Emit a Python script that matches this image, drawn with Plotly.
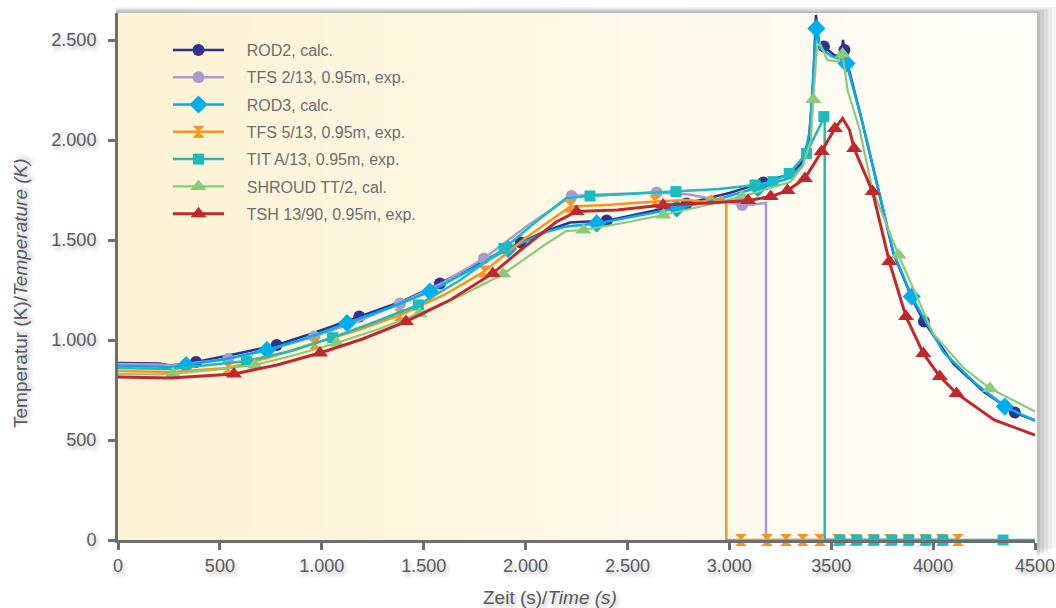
import plotly.graph_objects as go

# ---------------- data: time (s) and temperature (K) ----------------
rod2_t = [0, 200, 260, 383, 600, 779, 960, 1184, 1400, 1580, 1800, 1976, 2100, 2218, 2300, 2398,
          2600, 2790, 3000, 3167, 3300, 3350, 3390, 3410, 3425, 3440, 3464, 3520, 3550, 3558, 3565,
          3580, 3650, 3720, 3805, 3900, 3955, 4100, 4250, 4401, 4500]
rod2_T = [885, 883, 873, 890, 935, 975, 1035, 1117, 1195, 1283, 1400, 1487, 1545, 1587, 1590, 1597,
          1640, 1683, 1735, 1787, 1830, 1880, 2000, 2250, 2625, 2480, 2467, 2420, 2430, 2500, 2450,
          2380, 2100, 1800, 1433, 1200, 1092, 880, 740, 637, 598]
rod2_mt = [383, 779, 1184, 1580, 1976, 2398, 2790, 3167, 3464, 3565, 3955, 4401]
rod2_mT = [890, 975, 1117, 1283, 1487, 1597, 1683, 1787, 2467, 2450, 1092, 637]

tfs2_t = [0, 200, 260, 540, 750, 962, 1180, 1384, 1600, 1796, 2000, 2226, 2300, 2450, 2643, 2800,
          2950, 3063, 3120, 3180, 3180, 4130]
tfs2_T = [880, 878, 872, 905, 955, 1017, 1095, 1183, 1290, 1408, 1565, 1720, 1725, 1730, 1737, 1728,
          1700, 1675, 1678, 1685, 0, 0]
tfs2_mt = [540, 962, 1384, 1796, 2226, 2643, 3063]
tfs2_mT = [905, 1017, 1183, 1408, 1720, 1737, 1675]

rod3_t = [0, 200, 260, 334, 530, 731, 930, 1124, 1330, 1531, 1720, 1914, 2100, 2200, 2349, 2550,
          2742, 2950, 3140, 3300, 3360, 3395, 3410, 3427, 3445, 3500, 3560, 3575, 3650, 3720, 3805,
          3895, 4050, 4200, 4352, 4500]
rod3_T = [870, 868, 862, 875, 905, 950, 1010, 1085, 1160, 1242, 1345, 1455, 1540, 1568, 1583, 1620,
          1658, 1705, 1760, 1810, 1870, 2050, 2300, 2558, 2460, 2420, 2400, 2383, 2100, 1800, 1440,
          1217, 940, 790, 667, 597]
rod3_mt = [334, 731, 1124, 1531, 1914, 2349, 2742, 3140, 3427, 3575, 3895, 4352]
rod3_mT = [875, 950, 1085, 1242, 1455, 1583, 1658, 1760, 2558, 2383, 1217, 667]

tfs5_t = [0, 200, 260, 540, 750, 967, 1180, 1384, 1600, 1796, 2000, 2220, 2400, 2635, 2800, 2880,
          2910, 2940, 2960, 2985, 2985, 4122]
tfs5_T = [845, 843, 840, 860, 915, 985, 1050, 1125, 1225, 1342, 1510, 1667, 1675, 1692, 1700, 1690,
          1720, 1690, 1715, 1690, 0, 0]
tfs5_mt = [540, 967, 1384, 1796, 2220, 2635, 3057, 3185, 3278, 3361, 3445, 3533, 3617, 3705, 3788,
           3877, 3960, 4043, 4122]
tfs5_mT = [860, 985, 1125, 1342, 1667, 1692, 0, 0, 0, 0, 0, 0, 0, 0, 0, 0, 0, 0, 0]

tit_t = [0, 200, 260, 631, 850, 1053, 1260, 1474, 1680, 1894, 2050, 2200, 2316, 2500, 2738, 2950,
         3126, 3214, 3294, 3379, 3420, 3464, 3468, 3468, 4500]
tit_T = [860, 858, 855, 895, 945, 1012, 1090, 1175, 1300, 1458, 1590, 1710, 1720, 1730, 1742, 1755,
         1775, 1792, 1833, 1933, 2020, 2117, 2117, 0, 0]
tit_mt = [631, 1053, 1474, 1894, 2316, 2738, 3126, 3214, 3294, 3379, 3464, 3543, 3626, 3710, 3798,
          3881, 3965, 4048, 4343]
tit_mT = [895, 1012, 1175, 1458, 1720, 1742, 1775, 1792, 1833, 1933, 2117, 0, 0, 0, 0, 0, 0, 0, 0]

shroud_t = [0, 200, 270, 470, 672, 870, 1073, 1280, 1479, 1690, 1891, 2100, 2200, 2284, 2480, 2676,
            2870, 3061, 3200, 3300, 3360, 3400, 3412, 3430, 3445, 3480, 3530, 3556, 3580, 3640, 3700,
            3830, 4000, 4150, 4279, 4500]
shroud_T = [830, 828, 832, 850, 875, 925, 985, 1055, 1133, 1225, 1330, 1480, 1545, 1550, 1585, 1625,
            1670, 1717, 1760, 1790, 1870, 2000, 2203, 2467, 2483, 2400, 2392, 2430, 2250, 2050, 1760,
            1425, 1033, 860, 758, 642]
shroud_mt = [270, 672, 1073, 1479, 1891, 2284, 2676, 3061, 3412, 3556, 3830, 4279]
shroud_mT = [832, 875, 985, 1133, 1330, 1550, 1625, 1717, 2203, 2430, 1425, 758]

tsh_t = [0, 200, 260, 569, 780, 991, 1200, 1413, 1630, 1839, 2000, 2150, 2250, 2450, 2675, 2900,
         3092, 3203, 3285, 3371, 3453, 3518, 3556, 3590, 3612, 3703, 3785, 3867, 3952, 4033, 4115,
         4300, 4500]
tsh_T = [815, 813, 810, 830, 875, 935, 1005, 1092, 1200, 1333, 1470, 1590, 1642, 1650, 1675, 1685,
         1697, 1717, 1747, 1808, 1942, 2058, 2108, 2050, 1958, 1742, 1392, 1117, 933, 817, 733,
         600, 525]
tsh_mt = [569, 991, 1413, 1839, 2250, 2675, 3092, 3203, 3285, 3371, 3453, 3518, 3612, 3703, 3785,
          3867, 3952, 4033, 4115]
tsh_mT = [830, 935, 1092, 1333, 1642, 1675, 1697, 1717, 1747, 1808, 1942, 2058, 1958, 1742, 1392,
          1117, 933, 817, 733]

series_names = ["ROD2, calc.", "TFS 2/13, 0.95m, exp.", "ROD3, calc.", "TFS 5/13, 0.95m, exp.",
                "TIT A/13, 0.95m, exp.", "SHROUD TT/2, cal.", "TSH 13/90, 0.95m, exp."]

x_tickvals = [0, 500, 1000, 1500, 2000, 2500, 3000, 3500, 4000, 4500]
x_ticktext = ["0", "500", "1.000", "1.500", "2.000", "2.500", "3.000", "3500", "4000", "4500"]
y_tickvals = [0, 500, 1000, 1500, 2000, 2500]
y_ticktext = ["0", "500", "1.000", "1.500", "2.000", "2.500"]

# ---------------- styling ----------------
styles = [
    dict(color="#2e3192", symbol="circle", size=12, width=2.5),
    dict(color="#a99bd0", symbol="circle", size=12, width=2.5),
    dict(color="#00aeef", symbol="diamond", size=14, width=2.5),
    dict(color="#f7941d", symbol="hourglass", size=12, width=2.5),
    dict(color="#1cbbbf", symbol="square", size=11, width=2.5),
    dict(color="#8dc97b", symbol="triangle-up", size=14, width=2.2),
    dict(color="#c1272d", symbol="triangle-up", size=14, width=3),
]
series = [
    (rod2_t, rod2_T, rod2_mt, rod2_mT),
    (tfs2_t, tfs2_T, tfs2_mt, tfs2_mT),
    (rod3_t, rod3_T, rod3_mt, rod3_mT),
    (tfs5_t, tfs5_T, tfs5_mt, tfs5_mT),
    (tit_t, tit_T, tit_mt, tit_mT),
    (shroud_t, shroud_T, shroud_mt, shroud_mT),
    (tsh_t, tsh_T, tsh_mt, tsh_mT),
]

PAD = "\u00a0" * 4  # gap between legend symbol and label

fig = go.Figure()
for i, ((t, T, mt, mT), name, st) in enumerate(zip(series, series_names, styles)):
    grp = f"g{i}"
    fig.add_trace(go.Scatter(x=t, y=T, mode="lines", legendgroup=grp, showlegend=False,
                             line=dict(color=st["color"], width=st["width"]),
                             cliponaxis=False, hoverinfo="skip"))
    fig.add_trace(go.Scatter(x=mt, y=mT, mode="markers", legendgroup=grp, showlegend=False,
                             marker=dict(color=st["color"], symbol=st["symbol"], size=st["size"]),
                             cliponaxis=False, name=name))
    # legend entry (line + marker)
    fig.add_trace(go.Scatter(x=[None], y=[None], mode="lines+markers", name=PAD + name, legendgroup=grp,
                             line=dict(color=st["color"], width=st["width"]),
                             marker=dict(color=st["color"], symbol=st["symbol"], size=st["size"])))

# ---------------- background panel ----------------
W, H = 1056, 608
L, R, TOP, BOT = 118, 1035, 13, 540
pw, ph = R - L, BOT - TOP


def px_x(p):
    return (p - L) / pw


def px_y(p):
    return (BOT - p) / ph


shapes = []
# card shadow on the right / top
for k, a in enumerate([0.12, 0.10, 0.08, 0.07, 0.06]):
    shapes.append(dict(type="rect", xref="paper", yref="paper", layer="below",
                       x0=px_x(L - 2), x1=px_x(1040 + 4 * k), y0=px_y(556 - 2 * k), y1=px_y(TOP - 2 - k),
                       fillcolor=f"rgba(80,80,80,{a})", line=dict(width=0)))
shapes.append(dict(type="rect", xref="paper", yref="paper", layer="below",
                   x0=px_x(0), x1=px_x(1037), y0=px_y(608), y1=px_y(TOP),
                   fillcolor="white", line=dict(width=0)))
# horizontal cream-to-white gradient of the plotting area
N = 90
c0 = (253, 242, 211)
c1 = (255, 254, 250)
for i in range(N):
    f = i / (N - 1)
    col = tuple(round(c0[j] + (c1[j] - c0[j]) * f) for j in range(3))
    shapes.append(dict(type="rect", xref="paper", yref="paper", layer="below",
                       x0=i / N, x1=(i + 1) / N + 0.002, y0=0, y1=1,
                       fillcolor="rgb(%d,%d,%d)" % col, line=dict(width=0)))

label_shadow = "2px 3px 4px rgba(0,0,0,0.28)"
axis_col = "#6d6e71"
text_col = "#58595b"

fig.update_layout(
    width=W, height=H,
    margin=dict(l=L, r=W - R, t=TOP, b=H - BOT, autoexpand=False),
    paper_bgcolor="white", plot_bgcolor="rgba(0,0,0,0)",
    font=dict(family="Liberation Sans, Arial, sans-serif", color=text_col),
    shapes=shapes,
    showlegend=True,
    legend=dict(x=px_x(168), y=px_y(33), xanchor="left", yanchor="top",
                bgcolor="rgba(0,0,0,0)", borderwidth=0, tracegroupgap=3.5,
                font=dict(size=16, color="#6d6e71"), itemwidth=51),
    xaxis=dict(range=[0, 4500], tickvals=x_tickvals, ticktext=x_ticktext, automargin=False,
               showgrid=False, zeroline=False, showline=True, linecolor=axis_col, linewidth=3,
               ticks="outside", ticklen=7, tickwidth=3, tickcolor=axis_col,
               tickfont=dict(size=18, color=text_col, shadow=label_shadow)),
    yaxis=dict(range=[0, 2635], tickvals=y_tickvals, ticktext=y_ticktext, automargin=False,
               showgrid=False, zeroline=False, showline=True, linecolor=axis_col, linewidth=3,
               ticks="outside", ticklen=7, tickwidth=3, tickcolor=axis_col, ticklabelstandoff=8,
               tickfont=dict(size=18, color=text_col, shadow=label_shadow)),
    annotations=[
        dict(text="Zeit (s)/<i>Time (s)</i>", xref="paper", yref="paper",
             x=px_x(550), y=px_y(597), xanchor="center", yanchor="middle", showarrow=False,
             font=dict(size=19, color=text_col, shadow=label_shadow)),
        dict(text="Temperatur (K)/<i>Temperature (K)</i>", xref="paper", yref="paper",
             x=px_x(20), y=px_y(293), xanchor="center", yanchor="middle", showarrow=False,
             textangle=-90, font=dict(size=19, color=text_col, shadow=label_shadow)),
    ],
)

fig.write_html("out.html")
